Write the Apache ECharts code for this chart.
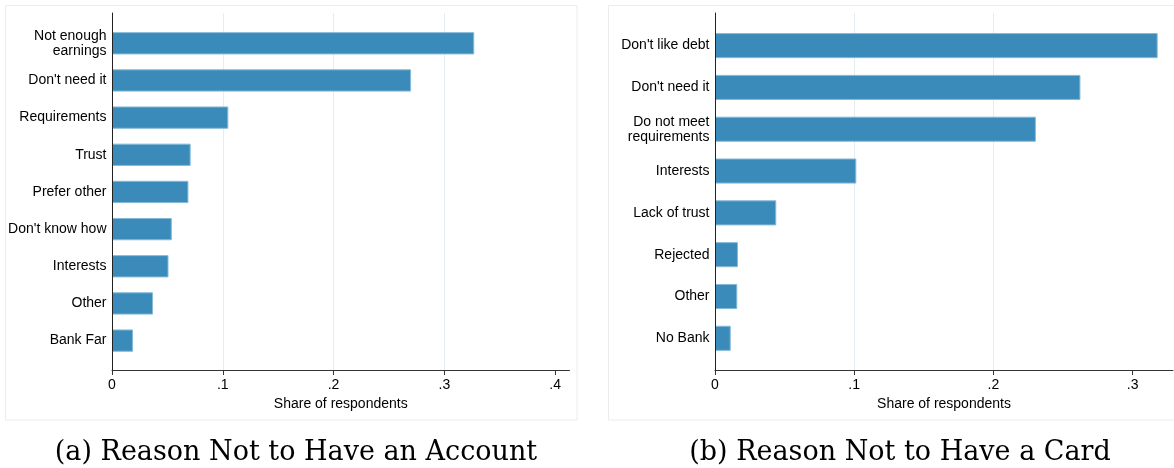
<!DOCTYPE html>
<html>
<head>
<meta charset="utf-8">
<title>Reasons for not having an account or a card</title>
<script src="https://cdn.jsdelivr.net/npm/echarts@6/dist/echarts.min.js"></script>
<style>
  html, body { margin: 0; padding: 0; background: #ffffff; }
  #chart { width: 1174px; height: 468px; }
</style>
</head>
<body>
<div id="chart"></div>
<script>
// Panel (a): reasons for not having an account
const accountReasons = ['Not enough\nearnings', "Don't need it", 'Requirements', 'Trust',
  'Prefer other', "Don't know how", 'Interests', 'Other', 'Bank Far'];
const accountShares = [0.327, 0.270, 0.105, 0.071, 0.069, 0.054, 0.051, 0.037, 0.019];

// Panel (b): reasons for not having a card
const cardReasons = ["Don't like debt", "Don't need it", 'Do not meet\nrequirements', 'Interests',
  'Lack of trust', 'Rejected', 'Other', 'No Bank'];
const cardShares = [0.318, 0.2625, 0.2305, 0.1015, 0.044, 0.0165, 0.016, 0.0113];

const accountTicks = [0, 0.1, 0.2, 0.3, 0.4];
const cardTicks = [0, 0.1, 0.2, 0.3];

const captions = ['(a) Reason Not to Have an Account', '(b) Reason Not to Have a Card'];
const axisTitle = 'Share of respondents';

const SANS = '"Liberation Sans", Arial, Helvetica, sans-serif';
const SERIF = '"DejaVu Serif", "Liberation Serif", serif';
const BAR = '#3b8bba';
const GRIDLINE = '#e3edf2';

const fmtTick = v => (v === 0 ? '0' : v.toFixed(1).replace(/^0/, ''));

// Each panel uses a frame grid (axis lines, ticks, gridlines) and an inner
// grid (bars and category labels) inset to leave Stata-style outer gaps.
function panel(idx, left, width, max, ticks) {
  const frameGrid = { left: left, top: 13, width: width, height: 357 };
  const barGrid = { left: left, top: 24.7, width: width, height: 334.5 };
  const frameX = {
    type: 'value', gridIndex: idx * 2, min: 0, max: max,
    axisLine: { show: true, lineStyle: { color: '#333', width: 1 } },
    axisTick: { show: true, length: 5, customValues: ticks, lineStyle: { color: '#333' } },
    axisLabel: { customValues: ticks, formatter: fmtTick, margin: 8,
      fontFamily: SANS, fontSize: 14, color: '#000' },
    splitLine: { show: true, showMinLine: false, showMaxLine: false,
      lineStyle: { color: GRIDLINE, width: 1 } },
    name: axisTitle, nameLocation: 'middle', nameGap: 25,
    nameTextStyle: { fontFamily: SANS, fontSize: 14, color: '#000' }
  };
  const frameY = {
    type: 'value', gridIndex: idx * 2, min: 0, max: 1, z: 3,
    axisLine: { show: true, lineStyle: { color: '#222', width: 1 } },
    axisTick: { show: false }, axisLabel: { show: false }, splitLine: { show: false }
  };
  const barX = { type: 'value', gridIndex: idx * 2 + 1, min: 0, max: max, show: false };
  return { grids: [frameGrid, barGrid], xAxes: [frameX, barX], yAxes: [frameY] };
}

const pa = panel(0, 112, 457.5, 0.413, accountTicks);
const pb = panel(1, 715, 458, 0.329, cardTicks);

function categoryAxis(gridIndex, data) {
  return {
    type: 'category', gridIndex: gridIndex, data: data, inverse: true,
    axisLine: { show: false }, axisTick: { show: false }, splitLine: { show: false },
    axisLabel: { margin: 5.5, fontFamily: SANS, fontSize: 14, lineHeight: 15, color: '#000' }
  };
}

function barSeries(axisIndex, values) {
  return {
    type: 'bar', xAxisIndex: axisIndex, yAxisIndex: axisIndex, data: values,
    barWidth: '60%', silent: true,
    itemStyle: { color: BAR, borderColor: '#86b9d8', borderWidth: 1 }
  };
}

const captionStyle = { fontFamily: SERIF, fontSize: 27, fontWeight: 'normal', color: '#000' };

const option = {
  backgroundColor: '#ffffff',
  animation: false,
  title: [
    { text: captions[0], left: 291, top: 434, textAlign: 'center', textStyle: captionStyle },
    { text: captions[1], left: 895, top: 434, textAlign: 'center', textStyle: captionStyle }
  ],
  graphic: [
    { type: 'rect', shape: { x: 5.5, y: 5.5, width: 571.5, height: 414.5 }, silent: true,
      style: { fill: 'none', stroke: '#ececec', lineWidth: 1 }, z: -1 },
    { type: 'rect', shape: { x: 608.5, y: 5.5, width: 580, height: 414.5 }, silent: true,
      style: { fill: 'none', stroke: '#ececec', lineWidth: 1 }, z: -1 }
  ],
  grid: [...pa.grids, ...pb.grids],
  xAxis: [...pa.xAxes, ...pb.xAxes],
  yAxis: [pa.yAxes[0], categoryAxis(1, accountReasons), pb.yAxes[0], categoryAxis(3, cardReasons)],
  series: [barSeries(1, accountShares), barSeries(3, cardShares)]
};

const chart = echarts.init(document.getElementById('chart'), null, { renderer: 'canvas' });
chart.setOption(option);
</script>
</body>
</html>
